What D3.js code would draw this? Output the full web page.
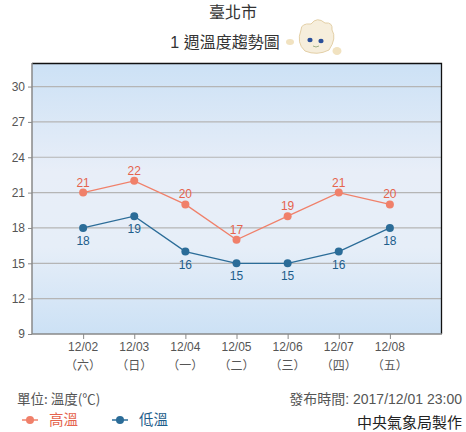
<!DOCTYPE html>
<html><head><meta charset="utf-8">
<script src="https://cdn.jsdelivr.net/npm/d3@7/dist/d3.min.js"></script>
<style>
body{margin:0;background:#fff;}
text{font-family:"Liberation Sans","Noto Sans CJK TC",sans-serif;}
.cjk{font-family:"Noto Sans CJK TC","Liberation Sans",sans-serif;}
.mix{font-family:"Liberation Sans","Noto Sans CJK TC",sans-serif;}
</style></head>
<body><svg id="c" width="466" height="432"></svg>
<script>
const dates = ["12/02","12/03","12/04","12/05","12/06","12/07","12/08"];
const weekdays = ["（六）","（日）","（一）","（二）","（三）","（四）","（五）"];
const highTemps = [21,22,20,17,19,21,20];
const lowTemps = [18,19,16,15,15,16,18];
const yTicks = [9,12,15,18,21,24,27,30];

const svg = d3.select("#c");
const L=32,T=63,R=441,B=334;
const x = d3.scaleLinear().domain([0,8]).range([L,R]);
const y = d3.scaleLinear().domain([9,32]).range([B,T]);

const defs = svg.append("defs");
const g = defs.append("linearGradient").attr("id","bg").attr("x1",0).attr("y1",0).attr("x2",0).attr("y2",1);
g.append("stop").attr("offset","0%").attr("stop-color","#cce1f5");
g.append("stop").attr("offset","40%").attr("stop-color","#e8eef8");
g.append("stop").attr("offset","68%").attr("stop-color","#e6eef8");
g.append("stop").attr("offset","100%").attr("stop-color","#cce1f5");

svg.append("rect").attr("x",L).attr("y",T).attr("width",R-L).attr("height",B-T).attr("fill","url(#bg)");

// grid
svg.append("g").selectAll("line").data(yTicks.filter(d=>d>9)).join("line")
  .attr("x1",L).attr("x2",R).attr("y1",d=>y(d)).attr("y2",d=>y(d))
  .attr("stroke","#b5b5b5").attr("stroke-width",1.2);

// border top/right
svg.append("path").attr("d",`M${L},${T+0.5}H${R+0.5}V${B}`).attr("fill","none").attr("stroke","#111").attr("stroke-width",1.3);

// y axis
const ya = svg.append("g").attr("transform",`translate(${L},0)`)
  .call(d3.axisLeft(y).tickValues(yTicks).tickSize(4).tickSizeOuter(0).tickPadding(3));
ya.select(".domain").remove();
ya.append("line").attr("x1",0).attr("x2",0).attr("y1",T).attr("y2",B).attr("stroke","#888").attr("stroke-width",1.5);
ya.selectAll(".tick line").attr("stroke","#888");
ya.selectAll(".tick text").attr("fill","#555").attr("font-size",12).attr("font-family","Liberation Sans, sans-serif");

// x axis
const xa = svg.append("g").attr("transform",`translate(0,${B})`)
  .call(d3.axisBottom(x).tickValues(d3.range(1,8)).tickSize(5).tickSizeOuter(0).tickFormat(""));
xa.select(".domain").remove();
xa.append("line").attr("x1",L).attr("x2",R+1).attr("stroke","#888").attr("stroke-width",1.5);
xa.selectAll(".tick line").attr("stroke","#888");
const xl = svg.append("g");
xl.selectAll("text.d").data(dates).join("text").attr("class","d")
  .attr("x",(d,i)=>x(i+1)).attr("y",351).attr("text-anchor","middle")
  .attr("font-size",12).attr("fill","#555").text(d=>d);
xl.selectAll("text.w").data(weekdays).join("text").attr("class","w cjk")
  .attr("x",(d,i)=>x(i+1)).attr("y",370).attr("text-anchor","middle")
  .attr("font-size",12).attr("fill","#555").text(d=>d);

const hiC="#f0806a", hiT="#e5634d", loC="#2b6c98", loT="#1d5d8b";
const line = d3.line().x((d,i)=>x(i+1)).y(d=>y(d));
function series(data,col,tcol,above){
  svg.append("path").datum(data).attr("d",line).attr("fill","none").attr("stroke",col).attr("stroke-width",1.3);
  svg.append("g").selectAll("circle").data(data).join("circle")
    .attr("cx",(d,i)=>x(i+1)).attr("cy",d=>y(d)).attr("r",4).attr("fill",col);
  svg.append("g").selectAll("text").data(data).join("text")
    .attr("x",(d,i)=>x(i+1)).attr("y",d=>y(d)+(above?-6:17)).attr("text-anchor","middle")
    .attr("font-size",12).attr("fill",tcol).text(d=>d);
}
series(highTemps,hiC,hiT,true);
series(lowTemps,loC,loT,false);

// titles
svg.append("text").attr("class","cjk").attr("x",233).attr("y",18).attr("text-anchor","middle")
  .attr("font-size",16).attr("fill","#333").text("臺北市");
svg.append("text").attr("class","mix").attr("x",225).attr("y",48).attr("text-anchor","middle")
  .attr("font-size",16).attr("fill","#333").text("1 週溫度趨勢圖");

// mascot
const m = svg.append("g").attr("transform","translate(315,40)");
m.append("ellipse").attr("cx",-25).attr("cy",2).attr("rx",4).attr("ry",3).attr("fill","#f1e2c0");
m.append("ellipse").attr("cx",22).attr("cy",11).attr("rx",4.5).attr("ry",4).attr("fill","#f1e2c0");
m.append("path").attr("d","M-14,-10 Q-14,-17 -4,-16 Q2,-24 10,-17 Q18,-18 17,-10 Q22,-2 14,10 Q2,16 -10,11 Q-19,3 -14,-10Z")
  .attr("fill","#f6eedc").attr("stroke","#e3cfa6").attr("stroke-width",1);
m.append("ellipse").attr("cx",-5).attr("cy",0).attr("rx",2.6).attr("ry",2.2).attr("fill","#2a4f9a");
m.append("ellipse").attr("cx",6).attr("cy",1).attr("rx",2.6).attr("ry",2.2).attr("fill","#2a4f9a");
m.append("path").attr("d","M-2,6 Q1,8 4,6").attr("fill","none").attr("stroke","#8aa070").attr("stroke-width",0.8);

// footer
svg.append("text").attr("class","cjk").attr("x",17).attr("y",404).attr("font-size",13.5).attr("fill","#555").text("單位: 溫度(℃)");
svg.append("text").attr("class","mix").attr("x",462).attr("y",404).attr("text-anchor","end").attr("font-size",14).attr("fill","#555").text("發布時間: 2017/12/01 23:00");
svg.append("text").attr("class","cjk").attr("x",462).attr("y",428).attr("text-anchor","end").attr("font-size",15).attr("fill","#222").text("中央氣象局製作");

const legend = [{name:"高溫",c:hiC,t:hiT,x:22},{name:"低溫",c:loC,t:loT,x:112}];
const lg = svg.append("g").selectAll("g").data(legend).join("g").attr("transform",d=>`translate(${d.x},420)`);
lg.append("line").attr("x1",0).attr("x2",16).attr("stroke",d=>d.c).attr("stroke-width",1.5);
lg.append("circle").attr("cx",8).attr("r",4).attr("fill",d=>d.c);
lg.append("text").attr("class","cjk").attr("x",27).attr("y",5).attr("font-size",14.5).attr("fill",d=>d.t).text(d=>d.name);
</script></body></html>
